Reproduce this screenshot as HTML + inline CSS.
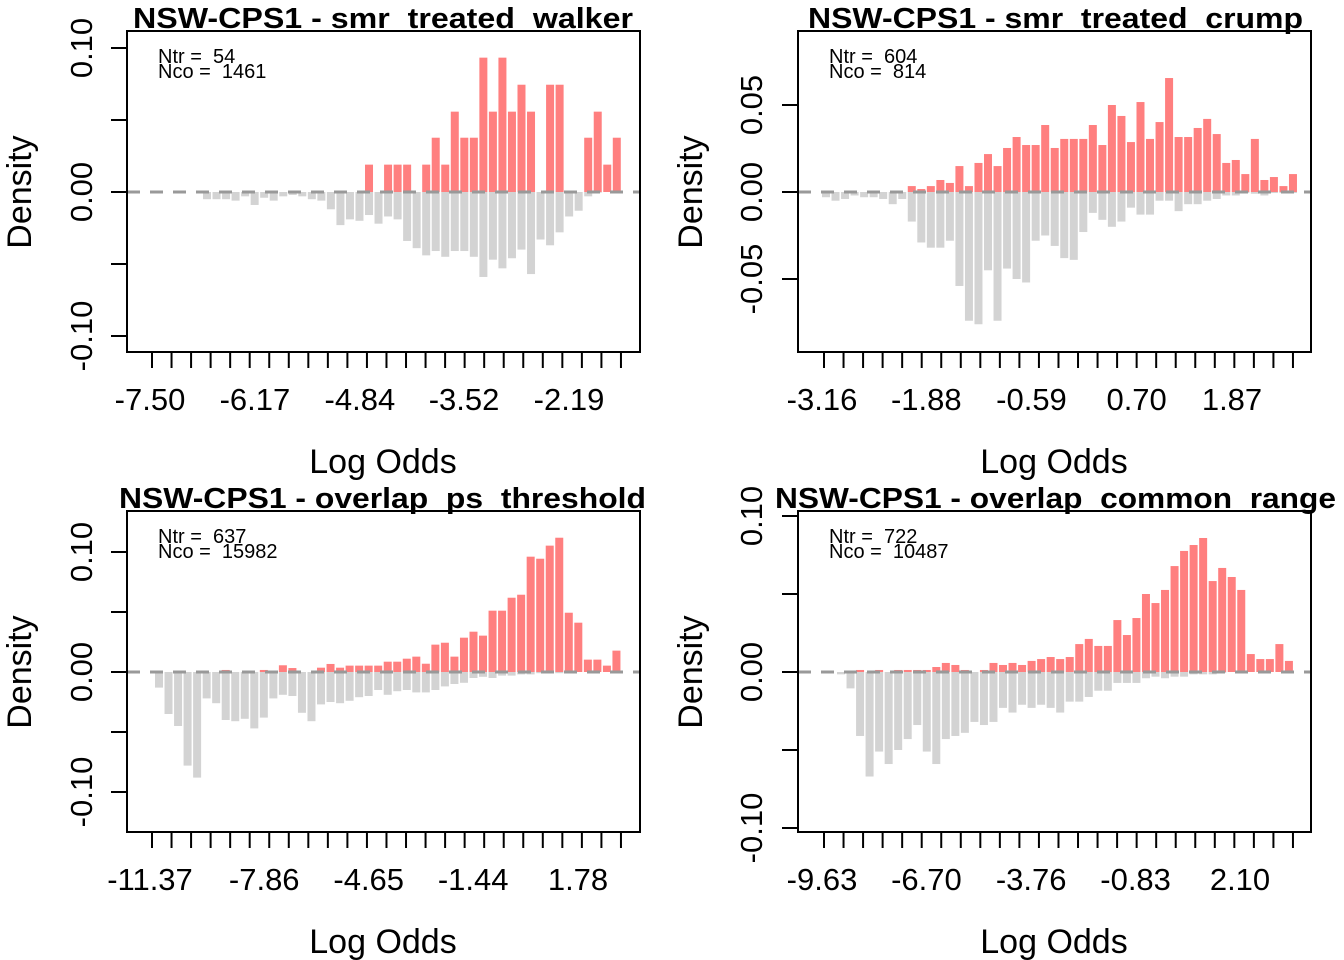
<!DOCTYPE html>
<html><head><meta charset="utf-8"><style>
html,body{margin:0;padding:0;background:#fff;}
svg{display:block;font-family:"Liberation Sans",Arial,sans-serif;}
text{white-space:pre;}
</style></head><body>
<svg id="chart" width="1344" height="960" viewBox="0 0 1344 960" xmlns="http://www.w3.org/2000/svg"></svg>
<script>
// ---- data (densities) ----
const p1Control = [.005,.005,.005,.006,.003,.009,.004,.006,.003,.002,.003,.005,.006,.012,.023,.019,.020,.016,.022,.017,.019,.034,.039,.044,.041,.045,.041,.041,.045,.059,.047,.053,.046,.040,.057,.033,.037,.028,.017,.013,.003,.0005,0,0];
const p1Treated = [0,0,0,0,0,0,0,0,0,0,0,0,0,0,0,0,0,.019,0,.019,.019,.019,0,.019,.0377,.019,.0558,.0377,.0377,.0933,.0558,.0933,.0558,.0745,.0558,0,.0745,.0745,0,0,.0377,.0558,.019,.0377];
const p1XTicks = [-7.50,-6.17,-4.84,-3.52,-2.19];

const p2Control = [.003,.005,.004,.002,.003,.003,.004,.007,.004,.017,.029,.032,.032,.028,.054,.074,.076,.045,.074,.044,.050,.052,.028,.025,.031,.038,.039,.023,.012,.016,.020,.017,.009,.013,.013,.005,.005,.011,.007,.007,.005,.004,.002,.002,.0006,.001,.002,.0006,.0006,.0006];
const p2Treated = [0,0,0,0,0,0,0,0,0,.0034,.0017,.0034,.0069,.0052,.0149,.0034,.0167,.0218,.0149,.0253,.0316,.027,.027,.0385,.0253,.0305,.0305,.0305,.0385,.027,.05,.0437,.0287,.0517,.0305,.0402,.0655,.0316,.0316,.0368,.042,.0333,.0167,.0184,.0103,.0305,.0069,.0086,.0034,.0103];
const p2XTicks = [-3.16,-1.88,-0.59,0.70,1.87];

const p3Control = [.013,.035,.045,.078,.088,.022,.026,.040,.041,.039,.047,.038,.022,.019,.020,.034,.041,.027,.025,.026,.024,.021,.020,.015,.019,.016,.015,.017,.017,.015,.012,.010,.009,.005,.004,.005,.003,.003,.002,.002,.001,.001,.001,0,0,0,0,0,0];
const p3Treated = [0,0,0,0,0,0,0,.0017,0,0,0,.0017,0,.0056,.0033,0,0,.0036,.0067,.0036,.0053,.0053,.0053,.0053,.0086,.0086,.0111,.0128,.0069,.0228,.0244,.0128,.0286,.0336,.0303,.0511,.0511,.0619,.0644,.0961,.0944,.1053,.1119,.0494,.0411,.0103,.0103,.0053,.0178];
const p3XTicks = [-11.37,-7.86,-4.65,-1.44,1.78];

const p4Control = [.0015,.0105,.041,.067,.051,.059,.050,.043,.034,.051,.059,.043,.041,.039,.032,.034,.032,.023,.026,.021,.023,.021,.023,.026,.019,.019,.016,.012,.012,.007,.007,.007,.004,.003,.004,.003,.003,.0015,.0015,.0015,.0006,0,0,0,0,0,0,0];
const p4Treated = [0,0,.0013,0,.0013,0,.0013,.0013,.0013,.0013,.0032,.0058,.0045,.0013,0,.0013,.0058,.0045,.0058,.0045,.0071,.0083,.0096,.0083,.0096,.0179,.0212,.0167,.0167,.0333,.0237,.0346,.05,.0442,.0526,.0679,.0776,.0814,.0859,.0583,.0667,.0609,.0526,.0115,.0083,.0083,.0179,.0071];
const p4XTicks = [-9.63,-6.70,-3.76,-0.83,2.10];

const NS = "http://www.w3.org/2000/svg";
const svg = document.getElementById('chart');
function mk(tag, attrs, parent){
  const e = document.createElementNS(NS, tag);
  for (const k in attrs) e.setAttribute(k, attrs[k]);
  (parent||svg).appendChild(e);
  return e;
}

const panels = [
 {key:'walker', title:"NSW-CPS1 - smr_treated_walker", tx:133, tw:500, ntr:54, nco:1461, control:p1Control, treated:p1Treated,
  xt:p1XTicks, ox:127, oy:31, scale:1440, bar0:207, tick0:152, yt:[-.1,-.05,0,.05,.1], yl:[-.1,0,.1], xa:[-7.50,150,-2.19,569], ylx:92, dlx:31},
 {key:'crump', title:"NSW-CPS1 - smr_treated_crump", tx:808, tw:495, ntr:604, nco:814, control:p2Control, treated:p2Treated,
  xt:p2XTicks, ox:798, oy:31, scale:1740, bar0:826, tick0:824, yt:[-.05,0,.05], yl:[-.05,0,.05], xa:[-3.16,822,1.87,1232], ylx:762, dlx:702},
 {key:'ps-threshold', title:"NSW-CPS1 - overlap_ps_threshold", tx:119, tw:527, ntr:637, nco:15982, control:p3Control, treated:p3Treated,
  xt:p3XTicks, ox:127, oy:511, scale:1200, bar0:159, tick0:152, yt:[-.1,-.05,0,.05,.1], yl:[-.1,0,.1], xa:[-11.37,150,1.78,578], ylx:92, dlx:31},
 {key:'common-range', title:"NSW-CPS1 - overlap_common_range", tx:775, tw:561, ntr:722, nco:10487, control:p4Control, treated:p4Treated,
  xt:p4XTicks, ox:798, oy:511, scale:1560, bar0:841, tick0:824, yt:[-.1,-.05,0,.05,.1], yl:[-.1,0,.1], xa:[-9.63,822,2.10,1240], ylx:762, dlx:702}
];
const W = 513, H = 321, PITCH = 9.53, BW = 8, TICKSTEP = 19.54;

panels.forEach(p => {
  const g = mk('g', {});
  
  
  const base = p.oy + 161;
  const y = v => base - v * p.scale;
  const xBin = i => p.bar0 + i * PITCH;
  const xLog = v => p.xa[1] + (v - p.xa[0]) * (p.xa[3] - p.xa[1]) / (p.xa[2] - p.xa[0]);

  // control bars (downward)
  p.control.forEach((v, i) => {
    if (v <= 0) return;
    const r = mk('rect', {x:xBin(i)-BW/2, y:base, width:BW, height:y(-v)-base, fill:'#d3d3d3'}, g);
    
    
  });
  // treated bars (upward)
  p.treated.forEach((v, i) => {
    if (v <= 0) return;
    const r = mk('rect', {x:xBin(i)-BW/2, y:y(v), width:BW, height:base - y(v), fill:'#ff7f7f'}, g);
    
    
  });
  // zero dashed line
  const zl = mk('line', {x1:p.ox, x2:p.ox+W, y1:base, y2:base, stroke:'#999', 'stroke-width':3, 'stroke-dasharray':'13 10'}, g);
  
  

  // box
  const bx = mk('rect', {x:p.ox, y:p.oy, width:W, height:H, fill:'none', stroke:'#000', 'stroke-width':2}, g);
  
  

  // title (drawn over frame)
  const t = mk('text', {x:p.tx, y:p.oy-3, 'font-size':29, 'font-weight':'bold', textLength:p.tw, lengthAdjust:'spacingAndGlyphs'}, g);
  t.textContent = p.title;
  
  

  // N text
  const n1 = mk('text', {x:p.ox+31, y:p.oy+32, 'font-size':20}, g);
  n1.textContent = 'Ntr =  ' + p.ntr;
  
  
  const n2 = mk('text', {x:p.ox+31, y:p.oy+47, 'font-size':20}, g);
  n2.textContent = 'Nco =  ' + p.nco;
  
  

  // x ticks
  for (let k = 0; k < 25; k++) {
    const tx = p.tick0 + k * TICKSTEP;
    const tk = mk('line', {x1:tx, x2:tx, y1:p.oy+H, y2:p.oy+H+16, stroke:'#000', 'stroke-width':2}, g);
    
    
  }
  p.xt.forEach(v => {
    const tl = mk('text', {x:xLog(v), y:p.oy+H+58, 'font-size':31, 'text-anchor':'middle'}, g);
    tl.textContent = v.toFixed(2);
    
    
  });
  const xt = mk('text', {x:p.ox+256, y:p.oy+442, 'font-size':34, 'text-anchor':'middle'}, g);
  xt.textContent = 'Log Odds';
  
  

  // y ticks
  p.yt.forEach(v => {
    const tk = mk('line', {x1:p.ox-16, x2:p.ox, y1:y(v), y2:y(v), stroke:'#000', 'stroke-width':2}, g);
    
    
  });
  p.yl.forEach(v => {
    const yy = y(v);
    const tl = mk('text', {x:p.ylx, y:yy, 'font-size':31, 'text-anchor':'middle', transform:'rotate(-90 '+p.ylx+' '+yy+')'}, g);
    tl.textContent = v.toFixed(2);
    
    
  });
  const yt = mk('text', {x:p.dlx, y:base, 'font-size':34, 'text-anchor':'middle', transform:'rotate(-90 '+p.dlx+' '+base+')'}, g);
  yt.textContent = 'Density';
  
  
});
</script>
</body></html>
